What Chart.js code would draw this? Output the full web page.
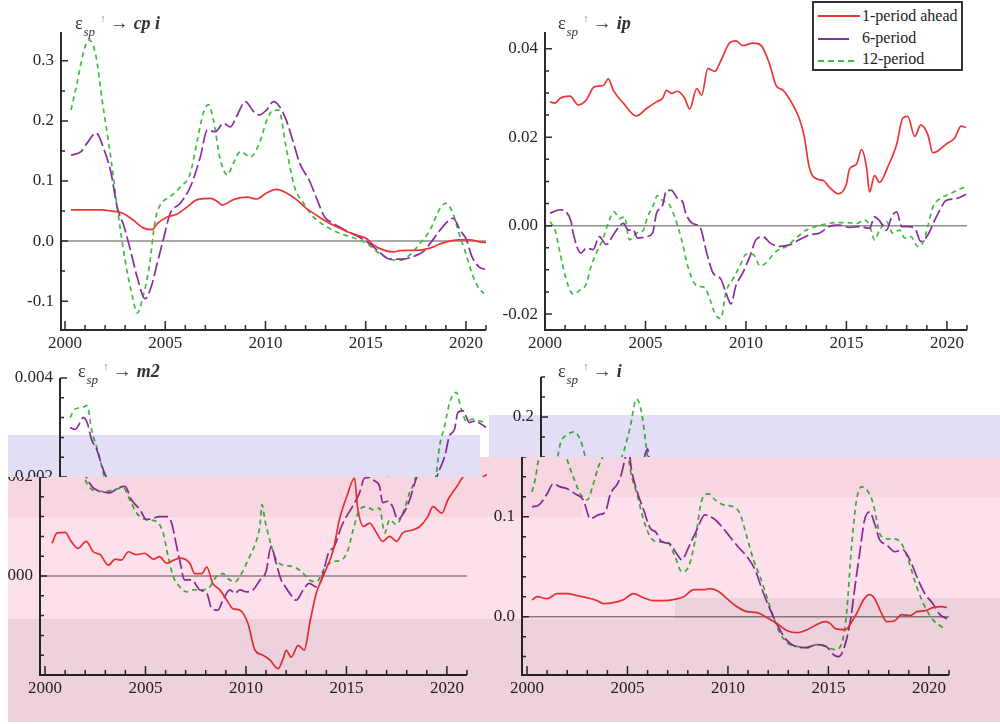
<!DOCTYPE html>
<html><head><meta charset="utf-8">
<script src="https://cdn.jsdelivr.net/npm/chart.js@4/dist/chart.umd.min.js"></script>
<style>
html,body{margin:0;padding:0}
body{width:1000px;height:724px;position:relative;overflow:hidden;background:#fff;font-family:"Liberation Serif",serif}
canvas{position:absolute;top:0;left:0}
.band{position:absolute;mix-blend-mode:multiply;pointer-events:none;z-index:5}
.ttl{position:absolute;font-family:"Liberation Serif",serif;font-size:18px;color:#333;line-height:20px;white-space:nowrap;z-index:6}
.ttl sub{font-size:13px;font-style:italic;vertical-align:-7px;margin-left:1px}
.ttl .up{font-size:11px;color:#888;vertical-align:7px;margin:0 4px 0 5px}
.ttl .ar{margin-right:5px;font-size:19px}
.ttl .v{font-style:italic;font-weight:bold}
#leg{position:absolute;left:812px;top:1px;width:147px;height:66px;border:2px solid #333;background:#fff;z-index:7}
#leg .ln{position:absolute;left:4px;height:0}
#leg .lt{position:absolute;left:48px;font-size:16px;color:#222;line-height:18px;white-space:nowrap}
</style></head>
<body>
<canvas id="c1" width="1000" height="724"></canvas>
<canvas id="c2" width="1000" height="724"></canvas>
<canvas id="c3a" width="1000" height="724" style="clip-path:inset(477px 0 0 8px)"></canvas>
<canvas id="c3b" width="1000" height="724" style="clip-path:inset(0 0 247px 0)"></canvas>
<canvas id="c4a" width="1000" height="724" style="clip-path:inset(457px 0 0 0)"></canvas>
<canvas id="c4b" width="1000" height="724" style="clip-path:inset(0 0 267px 0)"></canvas>

<div class="ttl" style="left:75px;top:8px">ε<sub>sp</sub><span class="up">↑</span><span class="ar">→</span><span class="v">cp i</span></div>
<div class="ttl" style="left:558px;top:8px">ε<sub>sp</sub><span class="up">↑</span><span class="ar">→</span><span class="v">ip</span></div>
<div class="ttl" style="left:78px;top:356px">ε<sub>sp</sub><span class="up">↑</span><span class="ar">→</span><span class="v">m2</span></div>
<div class="ttl" style="left:558px;top:356px">ε<sub>sp</sub><span class="up">↑</span><span class="ar">→</span><span class="v">i</span></div>

<div id="leg">
  <span class="ln" style="top:12px;width:42px;border-top:2px solid #EE3535"></span><span class="lt" style="top:4px">1-period ahead</span>
  <span class="ln" style="top:35px;width:31px;border-top:2px solid #8B2D9E"></span><span class="lt" style="top:26px">6-period</span>
  <span class="ln" style="top:57px;width:36px;border-top:2px dashed #3DBE3D"></span><span class="lt" style="top:47px">12-period</span>
</div>

<div class="band" style="left:8px;top:435px;width:472px;height:42px;background:#E2DEF6"></div>
<div class="band" style="left:489px;top:415px;width:511px;height:42px;background:#E2DEF6"></div>
<div class="band" style="left:8px;top:477px;width:472px;height:40px;background:#F7D6E2"></div>
<div class="band" style="left:480px;top:457px;width:520px;height:40px;background:#F7D6E2"></div>
<div class="band" style="left:480px;top:497px;width:102px;height:20px;background:#F7D6E2"></div>
<div class="band" style="left:8px;top:517px;width:667px;height:102px;background:#FCE0EC"></div>
<div class="band" style="left:582px;top:497px;width:418px;height:20px;background:#FCE0EC"></div>
<div class="band" style="left:675px;top:517px;width:325px;height:81px;background:#FCE0EC"></div>
<div class="band" style="left:8px;top:619px;width:667px;height:103px;background:#EDD2DD"></div>
<div class="band" style="left:675px;top:598px;width:325px;height:124px;background:#EDD2DD"></div>

<script>
// ---------- DATA ----------
const xTickYears = [2000, 2005, 2010, 2015, 2020];

const cpiTicks = [0.3, 0.2, 0.1, 0.0, -0.1];
const ipTicks = [0.04, 0.02, 0.00, -0.02];
const m2Ticks = [0.004, 0.002, 0.000];
const iTicks = [0.2, 0.1, 0.0];

const cpi1 = [[2000.3,0.052],[2001.8,0.052],[2002.3,0.050],[2002.9,0.046],[2003.4,0.035],[2003.9,0.022],[2004.35,0.019],[2004.6,0.029],[2005.1,0.040],[2005.6,0.045],[2006.1,0.057],[2006.6,0.069],[2007.25,0.071],[2007.6,0.066],[2007.85,0.060],[2008.4,0.069],[2009.1,0.073],[2009.55,0.070],[2010.05,0.080],[2010.55,0.086],[2011.05,0.080],[2011.55,0.069],[2012.05,0.054],[2012.55,0.043],[2013.05,0.032],[2013.55,0.024],[2014.05,0.016],[2014.55,0.010],[2015.05,0.004],[2015.4,-0.007],[2015.9,-0.015],[2016.4,-0.018],[2016.7,-0.016],[2017.7,-0.015],[2018.35,-0.010],[2018.85,-0.003],[2019.65,0.002],[2020.2,0.002],[2020.85,-0.002],[2021.0,-0.002]];
const cpi6 = [[2000.3,0.143],[2000.8,0.149],[2001.1,0.163],[2001.55,0.180],[2001.95,0.152],[2002.3,0.113],[2002.6,0.057],[2002.95,0.024],[2003.3,-0.020],[2003.6,-0.060],[2004.0,-0.096],[2004.3,-0.076],[2004.6,-0.037],[2004.9,0.002],[2005.25,0.046],[2005.75,0.063],[2006.25,0.090],[2006.75,0.140],[2007.1,0.185],[2007.5,0.182],[2007.9,0.196],[2008.25,0.190],[2008.55,0.207],[2009.0,0.232],[2009.4,0.216],[2009.7,0.210],[2010.05,0.218],[2010.4,0.232],[2010.7,0.224],[2011.05,0.200],[2011.4,0.163],[2011.7,0.130],[2012.2,0.100],[2012.55,0.071],[2012.95,0.040],[2013.4,0.029],[2014.05,0.017],[2014.7,0.006],[2015.2,-0.004],[2015.7,-0.019],[2016.2,-0.030],[2016.85,-0.030],[2017.35,-0.026],[2017.85,-0.018],[2018.35,0.002],[2018.85,0.024],[2019.35,0.038],[2019.75,0.016],[2020.0,0.004],[2020.3,-0.026],[2020.65,-0.043],[2020.95,-0.047]];
const cpi12 = [[2000.3,0.218],[2000.6,0.263],[2000.95,0.318],[2001.2,0.335],[2001.55,0.307],[2001.85,0.235],[2002.3,0.135],[2002.6,0.057],[2003.0,-0.032],[2003.4,-0.098],[2003.6,-0.120],[2003.85,-0.098],[2004.2,-0.043],[2004.5,0.035],[2004.75,0.060],[2005.25,0.074],[2005.75,0.090],[2006.25,0.113],[2006.6,0.168],[2006.9,0.213],[2007.15,0.227],[2007.4,0.202],[2007.75,0.135],[2008.1,0.110],[2008.4,0.130],[2008.75,0.149],[2009.25,0.140],[2009.75,0.168],[2010.05,0.200],[2010.4,0.218],[2010.65,0.218],[2011.05,0.152],[2011.45,0.090],[2011.9,0.063],[2012.4,0.040],[2013.05,0.024],[2013.7,0.013],[2014.35,0.006],[2015.05,-0.004],[2015.7,-0.021],[2016.2,-0.030],[2016.7,-0.032],[2017.2,-0.023],[2017.7,-0.004],[2018.2,0.018],[2018.7,0.054],[2019.0,0.063],[2019.35,0.046],[2019.65,0.013],[2020.0,-0.021],[2020.3,-0.054],[2020.65,-0.079],[2020.9,-0.087]];

const ip1 = [[2000.25,0.0280],[2000.5,0.0277],[2000.75,0.0288],[2001.25,0.0293],[2001.65,0.0273],[2002.05,0.0284],[2002.45,0.0314],[2002.9,0.0317],[2003.15,0.0332],[2003.4,0.0306],[2003.9,0.0277],[2004.55,0.0248],[2005.05,0.0265],[2005.55,0.0280],[2005.85,0.0288],[2006.05,0.0306],[2006.3,0.0299],[2006.6,0.0304],[2006.95,0.0288],[2007.2,0.0264],[2007.55,0.0310],[2007.8,0.0295],[2008.1,0.0355],[2008.45,0.0349],[2008.75,0.0373],[2009.2,0.0414],[2009.5,0.0418],[2009.85,0.0407],[2010.35,0.0413],[2010.75,0.0408],[2011.2,0.0362],[2011.5,0.0317],[2011.85,0.0306],[2012.25,0.0280],[2012.65,0.0243],[2012.9,0.0202],[2013.15,0.0132],[2013.5,0.0106],[2013.85,0.0102],[2014.15,0.0087],[2014.6,0.0072],[2015.0,0.0094],[2015.15,0.0128],[2015.5,0.0139],[2015.75,0.0172],[2016.0,0.0132],[2016.15,0.0076],[2016.4,0.0113],[2016.65,0.0098],[2017.05,0.0132],[2017.5,0.0184],[2017.8,0.0243],[2018.05,0.0247],[2018.4,0.0202],[2018.7,0.0228],[2019.05,0.0206],[2019.3,0.0165],[2019.55,0.0169],[2019.95,0.0184],[2020.4,0.0199],[2020.7,0.0225],[2020.95,0.0222]];
const ip6 = [[2000.25,0.0028],[2000.75,0.0036],[2001.05,0.0031],[2001.3,0.0009],[2001.4,-0.0017],[2001.8,-0.0062],[2002.05,-0.0051],[2002.4,-0.0054],[2002.7,-0.0025],[2003.05,-0.0043],[2003.45,-0.0017],[2003.9,0.0005],[2004.15,-0.0010],[2004.4,-0.0010],[2004.6,-0.0028],[2005.05,-0.0025],[2005.35,-0.0017],[2005.55,0.0028],[2005.85,0.0046],[2006.05,0.0080],[2006.3,0.0080],[2006.6,0.0061],[2006.85,0.0054],[2007.0,0.0028],[2007.35,0.0005],[2007.7,-0.0002],[2008.05,-0.0062],[2008.35,-0.0106],[2008.75,-0.0121],[2009.0,-0.0151],[2009.25,-0.0177],[2009.5,-0.0136],[2009.85,-0.0106],[2010.2,-0.0069],[2010.5,-0.0032],[2010.85,-0.0025],[2011.2,-0.0039],[2011.7,-0.0047],[2012.2,-0.0043],[2012.65,-0.0032],[2013.15,-0.0021],[2013.65,-0.0017],[2014.15,-0.0002],[2014.65,0.0001],[2015.15,-0.0004],[2015.65,-0.0002],[2016.15,-0.0006],[2016.4,0.0020],[2016.65,0.0011],[2017.0,-0.0010],[2017.25,0.0020],[2017.5,0.0031],[2017.75,-0.0002],[2018.15,-0.0002],[2018.45,-0.0010],[2018.7,-0.0036],[2019.05,-0.0021],[2019.4,0.0013],[2019.65,0.0035],[2019.95,0.0057],[2020.45,0.0061],[2020.95,0.0071]];
const ip12 = [[2000.25,0.0009],[2000.5,-0.0010],[2000.75,-0.0062],[2001.05,-0.0121],[2001.4,-0.0155],[2001.7,-0.0147],[2002.05,-0.0132],[2002.3,-0.0091],[2002.55,-0.0062],[2002.9,-0.0028],[2003.2,0.0013],[2003.45,0.0031],[2003.7,0.0016],[2003.95,0.0020],[2004.2,-0.0032],[2004.55,-0.0017],[2004.9,-0.0010],[2005.1,0.0020],[2005.35,0.0042],[2005.6,0.0068],[2005.85,0.0057],[2006.2,0.0046],[2006.45,0.0020],[2006.8,-0.0032],[2007.1,-0.0091],[2007.55,-0.0136],[2007.95,-0.0140],[2008.2,-0.0166],[2008.5,-0.0203],[2008.75,-0.0210],[2009.0,-0.0151],[2009.35,-0.0121],[2009.7,-0.0091],[2010.0,-0.0065],[2010.35,-0.0065],[2010.7,-0.0091],[2011.0,-0.0084],[2011.5,-0.0058],[2012.0,-0.0047],[2012.5,-0.0028],[2013.0,-0.0010],[2013.5,-0.0002],[2014.0,0.0004],[2014.5,0.0007],[2015.0,0.0007],[2015.5,0.0005],[2015.9,0.0013],[2016.15,0.0001],[2016.4,-0.0032],[2016.65,-0.0010],[2017.0,0.0009],[2017.3,-0.0017],[2017.65,-0.0010],[2017.9,-0.0028],[2018.2,-0.0025],[2018.55,-0.0047],[2018.8,-0.0039],[2019.05,-0.0002],[2019.3,0.0042],[2019.65,0.0061],[2020.15,0.0072],[2020.65,0.0083],[2020.95,0.0088]];

const m21 = [[2000.35,0.00066],[2000.6,0.00087],[2001.0,0.00088],[2001.3,0.00070],[2001.65,0.00056],[2002.05,0.00070],[2002.4,0.00049],[2002.75,0.00043],[2003.15,0.00022],[2003.5,0.00034],[2003.8,0.00032],[2004.15,0.00049],[2004.55,0.00043],[2004.95,0.00046],[2005.4,0.00034],[2005.7,0.00039],[2006.05,0.00026],[2006.4,0.00032],[2006.7,0.00036],[2007.2,0.00026],[2007.45,0.00005],[2007.8,0.00005],[2008.05,0.00018],[2008.35,-0.00015],[2008.7,-0.00028],[2009.05,-0.00049],[2009.35,-0.00066],[2009.7,-0.00069],[2010.1,-0.00096],[2010.45,-0.00150],[2010.85,-0.00160],[2011.2,-0.00170],[2011.6,-0.00187],[2011.85,-0.00167],[2012.0,-0.00150],[2012.25,-0.00164],[2012.6,-0.00140],[2012.9,-0.00150],[2013.2,-0.00090],[2013.5,-0.00035],[2013.9,0.00005],[2014.35,0.00053],[2014.65,0.00114],[2015.05,0.00164],[2015.4,0.00198],[2015.55,0.00140],[2015.85,0.00100],[2016.15,0.00107],[2016.5,0.00087],[2016.8,0.00070],[2017.15,0.00080],[2017.5,0.00070],[2017.8,0.00087],[2018.3,0.00093],[2018.65,0.00100],[2019.05,0.00120],[2019.3,0.00140],[2019.75,0.00127],[2020.05,0.00154],[2020.5,0.00181],[2020.8,0.00200],[2021.0,0.00205]];
const m26 = [[2000.25,0.00300],[2000.5,0.00296],[2000.75,0.00310],[2000.9,0.00320],[2001.1,0.00310],[2001.32,0.00276],[2001.57,0.00256],[2001.9,0.00215],[2002.07,0.00198],[2002.4,0.00178],[2002.75,0.00171],[2003.23,0.00168],[2003.65,0.00178],[2003.98,0.00181],[2004.3,0.00154],[2004.72,0.00134],[2005.05,0.00114],[2005.4,0.00117],[2005.7,0.00120],[2006.05,0.00120],[2006.3,0.00107],[2006.55,0.00060],[2006.7,0.00032],[2006.95,-0.00008],[2007.3,-0.00008],[2007.7,-0.00028],[2008.05,-0.00035],[2008.3,-0.00066],[2008.6,-0.00069],[2008.85,-0.00049],[2009.2,-0.00028],[2009.45,-0.00035],[2009.7,-0.00028],[2010.0,-0.00032],[2010.35,-0.00028],[2010.7,-0.00008],[2011.0,0.00009],[2011.25,0.00060],[2011.5,0.00026],[2011.75,-0.00008],[2011.9,-0.00018],[2012.25,-0.00039],[2012.5,-0.00049],[2012.85,-0.00028],[2013.15,-0.00015],[2013.5,-0.00022],[2013.75,-0.00008],[2014.1,0.00046],[2014.4,0.00060],[2014.75,0.00100],[2015.0,0.00120],[2015.3,0.00140],[2015.65,0.00168],[2015.9,0.00198],[2016.15,0.00199],[2016.4,0.00192],[2016.65,0.00181],[2016.8,0.00148],[2017.05,0.00151],[2017.3,0.00140],[2017.55,0.00114],[2017.8,0.00124],[2018.15,0.00154],[2018.4,0.00188],[2018.64,0.00215],[2018.9,0.00242],[2019.13,0.00283],[2019.38,0.00296],[2019.55,0.00330],[2019.8,0.00334],[2020.13,0.00310],[2020.38,0.00313],[2020.7,0.00307],[2020.95,0.00300]];
const m212 = [[2000.25,0.00320],[2000.5,0.00337],[2000.83,0.00340],[2001.1,0.00344],[2001.32,0.00296],[2001.66,0.00249],[2002.0,0.00195],[2002.24,0.00178],[2002.57,0.00171],[2003.07,0.00171],[2003.48,0.00175],[2003.9,0.00178],[2004.22,0.00154],[2004.56,0.00127],[2005.05,0.00114],[2005.55,0.00110],[2005.88,0.00087],[2006.13,0.00039],[2006.38,-0.00001],[2006.71,-0.00022],[2007.04,-0.00032],[2007.37,-0.00028],[2007.87,-0.00028],[2008.2,-0.00022],[2008.53,-0.00001],[2008.86,0.00005],[2009.1,-0.00005],[2009.44,-0.00012],[2009.78,0.00005],[2010.1,0.00032],[2010.44,0.00063],[2010.69,0.00100],[2010.8,0.00144],[2010.94,0.00114],[2011.18,0.00073],[2011.52,0.00032],[2011.85,0.00022],[2012.35,0.00019],[2012.76,0.00009],[2013.17,-0.00008],[2013.5,-0.00012],[2013.92,0.00016],[2014.33,0.00029],[2014.75,0.00032],[2015.08,0.00053],[2015.33,0.00093],[2015.66,0.00134],[2016.0,0.00140],[2016.32,0.00134],[2016.65,0.00137],[2016.9,0.00087],[2017.15,0.00114],[2017.48,0.00104],[2017.81,0.00127],[2018.14,0.00168],[2018.47,0.00205],[2018.64,0.00263],[2018.89,0.00303],[2019.14,0.00350],[2019.47,0.00371],[2019.72,0.00337],[2019.97,0.00313],[2020.3,0.00317],[2020.63,0.00313],[2020.96,0.00310]];

const i1 = [[2000.25,0.0167],[2000.5,0.020],[2001.0,0.018],[2001.5,0.023],[2002.0,0.023],[2002.5,0.021],[2003.0,0.019],[2003.5,0.016],[2003.8,0.013],[2004.3,0.014],[2004.8,0.017],[2005.3,0.023],[2005.8,0.019],[2006.3,0.016],[2006.8,0.016],[2007.3,0.017],[2007.8,0.020],[2008.3,0.027],[2008.8,0.027],[2009.1,0.028],[2009.55,0.025],[2009.95,0.018],[2010.45,0.010],[2010.95,0.005],[2011.45,0.004],[2011.95,-0.001],[2012.45,-0.007],[2012.95,-0.014],[2013.45,-0.016],[2013.95,-0.013],[2014.4,-0.008],[2014.85,-0.005],[2015.1,-0.007],[2015.35,-0.012],[2015.85,-0.013],[2016.1,-0.007],[2016.4,0.003],[2016.75,0.017],[2017.05,0.022],[2017.3,0.018],[2017.65,0.003],[2017.9,-0.005],[2018.3,-0.004],[2018.65,0.002],[2019.05,0.001],[2019.4,0.005],[2019.8,0.006],[2020.2,0.009],[2020.65,0.010],[2020.9,0.009]];
const i6 = [[2000.25,0.110],[2000.6,0.112],[2001.0,0.123],[2001.3,0.133],[2001.65,0.130],[2002.0,0.128],[2002.4,0.123],[2002.8,0.117],[2003.15,0.098],[2003.55,0.102],[2003.9,0.105],[2004.15,0.123],[2004.5,0.133],[2004.7,0.143],[2004.9,0.160],[2005.05,0.168],[2005.2,0.147],[2005.45,0.127],[2005.8,0.107],[2006.15,0.088],[2006.4,0.085],[2006.7,0.075],[2007.1,0.073],[2007.45,0.063],[2007.7,0.057],[2008.05,0.070],[2008.45,0.087],[2008.85,0.102],[2009.3,0.098],[2009.7,0.090],[2010.1,0.080],[2010.5,0.070],[2010.95,0.060],[2011.35,0.047],[2011.7,0.027],[2012.1,0.007],[2012.5,-0.010],[2012.9,-0.023],[2013.4,-0.030],[2013.9,-0.031],[2014.4,-0.028],[2014.9,-0.030],[2015.25,-0.038],[2015.5,-0.040],[2015.8,-0.030],[2016.1,-0.003],[2016.3,0.027],[2016.55,0.063],[2016.8,0.097],[2017.05,0.105],[2017.3,0.093],[2017.55,0.077],[2017.9,0.072],[2018.3,0.065],[2018.7,0.067],[2019.05,0.057],[2019.4,0.040],[2019.8,0.023],[2020.2,0.013],[2020.55,0.002],[2020.9,-0.002]];
const i12 = [[2000.25,0.125],[2000.4,0.137],[2000.71,0.173],[2001.05,0.182],[2001.38,0.185],[2001.71,0.177],[2002.0,0.157],[2002.3,0.140],[2002.65,0.123],[2003.0,0.117],[2003.3,0.133],[2003.55,0.150],[2003.86,0.165],[2004.19,0.190],[2004.5,0.218],[2004.75,0.205],[2005.0,0.168],[2005.14,0.147],[2005.47,0.123],[2005.8,0.097],[2006.13,0.080],[2006.46,0.075],[2006.96,0.075],[2007.37,0.060],[2007.7,0.045],[2008.04,0.050],[2008.37,0.077],[2008.7,0.117],[2009.03,0.123],[2009.36,0.117],[2009.78,0.112],[2010.27,0.110],[2010.6,0.103],[2010.94,0.080],[2011.27,0.057],[2011.6,0.040],[2011.93,0.020],[2012.26,0.000],[2012.6,-0.017],[2013.0,-0.027],[2013.5,-0.030],[2014.0,-0.031],[2014.42,-0.028],[2014.9,-0.030],[2015.33,-0.033],[2015.66,-0.027],[2015.9,0.003],[2016.15,0.070],[2016.4,0.117],[2016.65,0.130],[2016.98,0.125],[2017.23,0.113],[2017.56,0.083],[2017.9,0.078],[2018.3,0.078],[2018.64,0.073],[2018.97,0.057],[2019.39,0.030],[2019.8,0.010],[2020.2,-0.003],[2020.63,-0.010],[2020.8,-0.012]];

// ---------- STYLE ----------
const RED = '#EE3535', PURPLE = '#8B2D9E', GREEN = '#3DBE3D';
const XH = 30;
const FONT = {family: '"Liberation Serif", serif', size: 17};

function deco(cfg) {
  return {
    id: 'deco',
    beforeDatasetsDraw(chart) {
      const {ctx, chartArea: a, scales: {y}} = chart;
      const y0 = y.getPixelForValue(0);
      ctx.save();
      ctx.strokeStyle = '#8d8d8d'; ctx.lineWidth = 1.5;
      ctx.beginPath(); ctx.moveTo(a.left, y0); ctx.lineTo(a.right, y0); ctx.stroke();
      ctx.restore();
    },
    afterDatasetsDraw(chart) {
      const {ctx, chartArea: a, scales: {x, y}} = chart;
      ctx.save();
      ctx.strokeStyle = '#2a2a2a'; ctx.lineWidth = 2;
      ctx.beginPath();
      ctx.moveTo(a.left, a.top); ctx.lineTo(a.left, a.bottom); ctx.lineTo(a.right, a.bottom);
      ctx.stroke();
      ctx.lineWidth = 1.5;
      ctx.beginPath();
      for (let yr = 2000; yr <= 2021; yr++) {
        const px = x.getPixelForValue(yr);
        const L = yr % 5 === 0 ? 9 : 5;
        ctx.moveTo(px, a.bottom); ctx.lineTo(px, a.bottom - L);
      }
      const n0 = Math.ceil(cfg.yMin / cfg.minor - 1e-6), n1 = Math.floor(cfg.yMax / cfg.minor + 1e-6);
      for (let n = n0; n <= n1; n++) {
        const v = n * cfg.minor;
        const py = y.getPixelForValue(v);
        const major = cfg.yTicks.some(t => Math.abs(t - v) < cfg.minor / 10);
        ctx.moveTo(a.left, py); ctx.lineTo(a.left + (major ? 7 : 4), py);
      }
      ctx.stroke();
      ctx.restore();
    }
  };
}

function ds(pairs, color, dash) {
  return {
    data: pairs.map(p => ({x: p[0], y: p[1]})),
    borderColor: color, borderWidth: 1.7, borderDash: dash,
    pointRadius: 0, fill: false, cubicInterpolationMode: 'monotone'
  };
}

function make(id, cfg) {
  const A = cfg.area, YW = cfg.yw;
  new Chart(document.getElementById(id), {
    type: 'line',
    data: {datasets: [ds(cfg.s1, RED, []), ds(cfg.s6, PURPLE, [14, 4]), ds(cfg.s12, GREEN, [5, 4])]},
    options: {
      responsive: false, animation: false, devicePixelRatio: 1,
      layout: {padding: {left: A.l - YW, top: A.t, right: 1000 - A.r, bottom: 724 - A.b - XH}},
      plugins: {legend: {display: false}, tooltip: {enabled: false}, title: {display: false}},
      scales: {
        x: {
          type: 'linear', min: cfg.xMin, max: 2021,
          grid: {display: false, drawTicks: false}, border: {display: false},
          afterBuildTicks: s => { s.ticks = xTickYears.map(v => ({value: v})); },
          afterFit: s => { s.height = XH; },
          ticks: {font: FONT, color: '#262626', padding: 3, maxRotation: 0, autoSkip: false, callback: v => String(v)}
        },
        y: {
          type: 'linear', min: cfg.yMin, max: cfg.yMax,
          grid: {display: false, drawTicks: false}, border: {display: false},
          afterBuildTicks: s => { s.ticks = cfg.yTicks.map(v => ({value: v})); },
          afterFit: s => { s.width = YW; },
          ticks: {font: FONT, color: '#262626', padding: 7, autoSkip: false, callback: v => Number(v).toFixed(cfg.dec)}
        }
      }
    },
    plugins: [deco(cfg)]
  });
}

const P1 = {area: {l: 61, r: 486, t: 32, b: 330}, yw: 55, xMin: 1999.8, yMin: -0.148, yMax: 0.348, yTicks: cpiTicks, minor: 0.05, dec: 1, s1: cpi1, s6: cpi6, s12: cpi12};
const P2 = {area: {l: 545, r: 967, t: 32, b: 330}, yw: 55, xMin: 2000, yMin: -0.0236, yMax: 0.0438, yTicks: ipTicks, minor: 0.005, dec: 2, s1: ip1, s6: ip6, s12: ip12};
const P3 = {area: {l: 40, r: 467, t: 378, b: 675}, yw: 40, xMin: 1999.75, yMin: -0.002, yMax: 0.004, yTicks: m2Ticks, minor: 0.0004, dec: 3, s1: m21, s6: m26, s12: m212};
const P4 = {area: {l: 522, r: 949, t: 377, b: 675}, yw: 55, xMin: 1999.75, yMin: -0.0584, yMax: 0.24, yTicks: iTicks, minor: 0.02, dec: 1, s1: i1, s6: i6, s12: i12};
// upper (offset) parts of the two lower panels, as in the reference image
const P3up = Object.assign({}, P3, {area: {l: 60, r: 487, t: 378, b: 675}, yw: 55});
const P4up = Object.assign({}, P4, {area: {l: 541, r: 968, t: 377, b: 675}, yw: 55});

make('c1', P1);
make('c2', P2);
make('c3a', P3);
make('c3b', P3up);
make('c4a', P4);
make('c4b', P4up);
</script>
</body></html>
